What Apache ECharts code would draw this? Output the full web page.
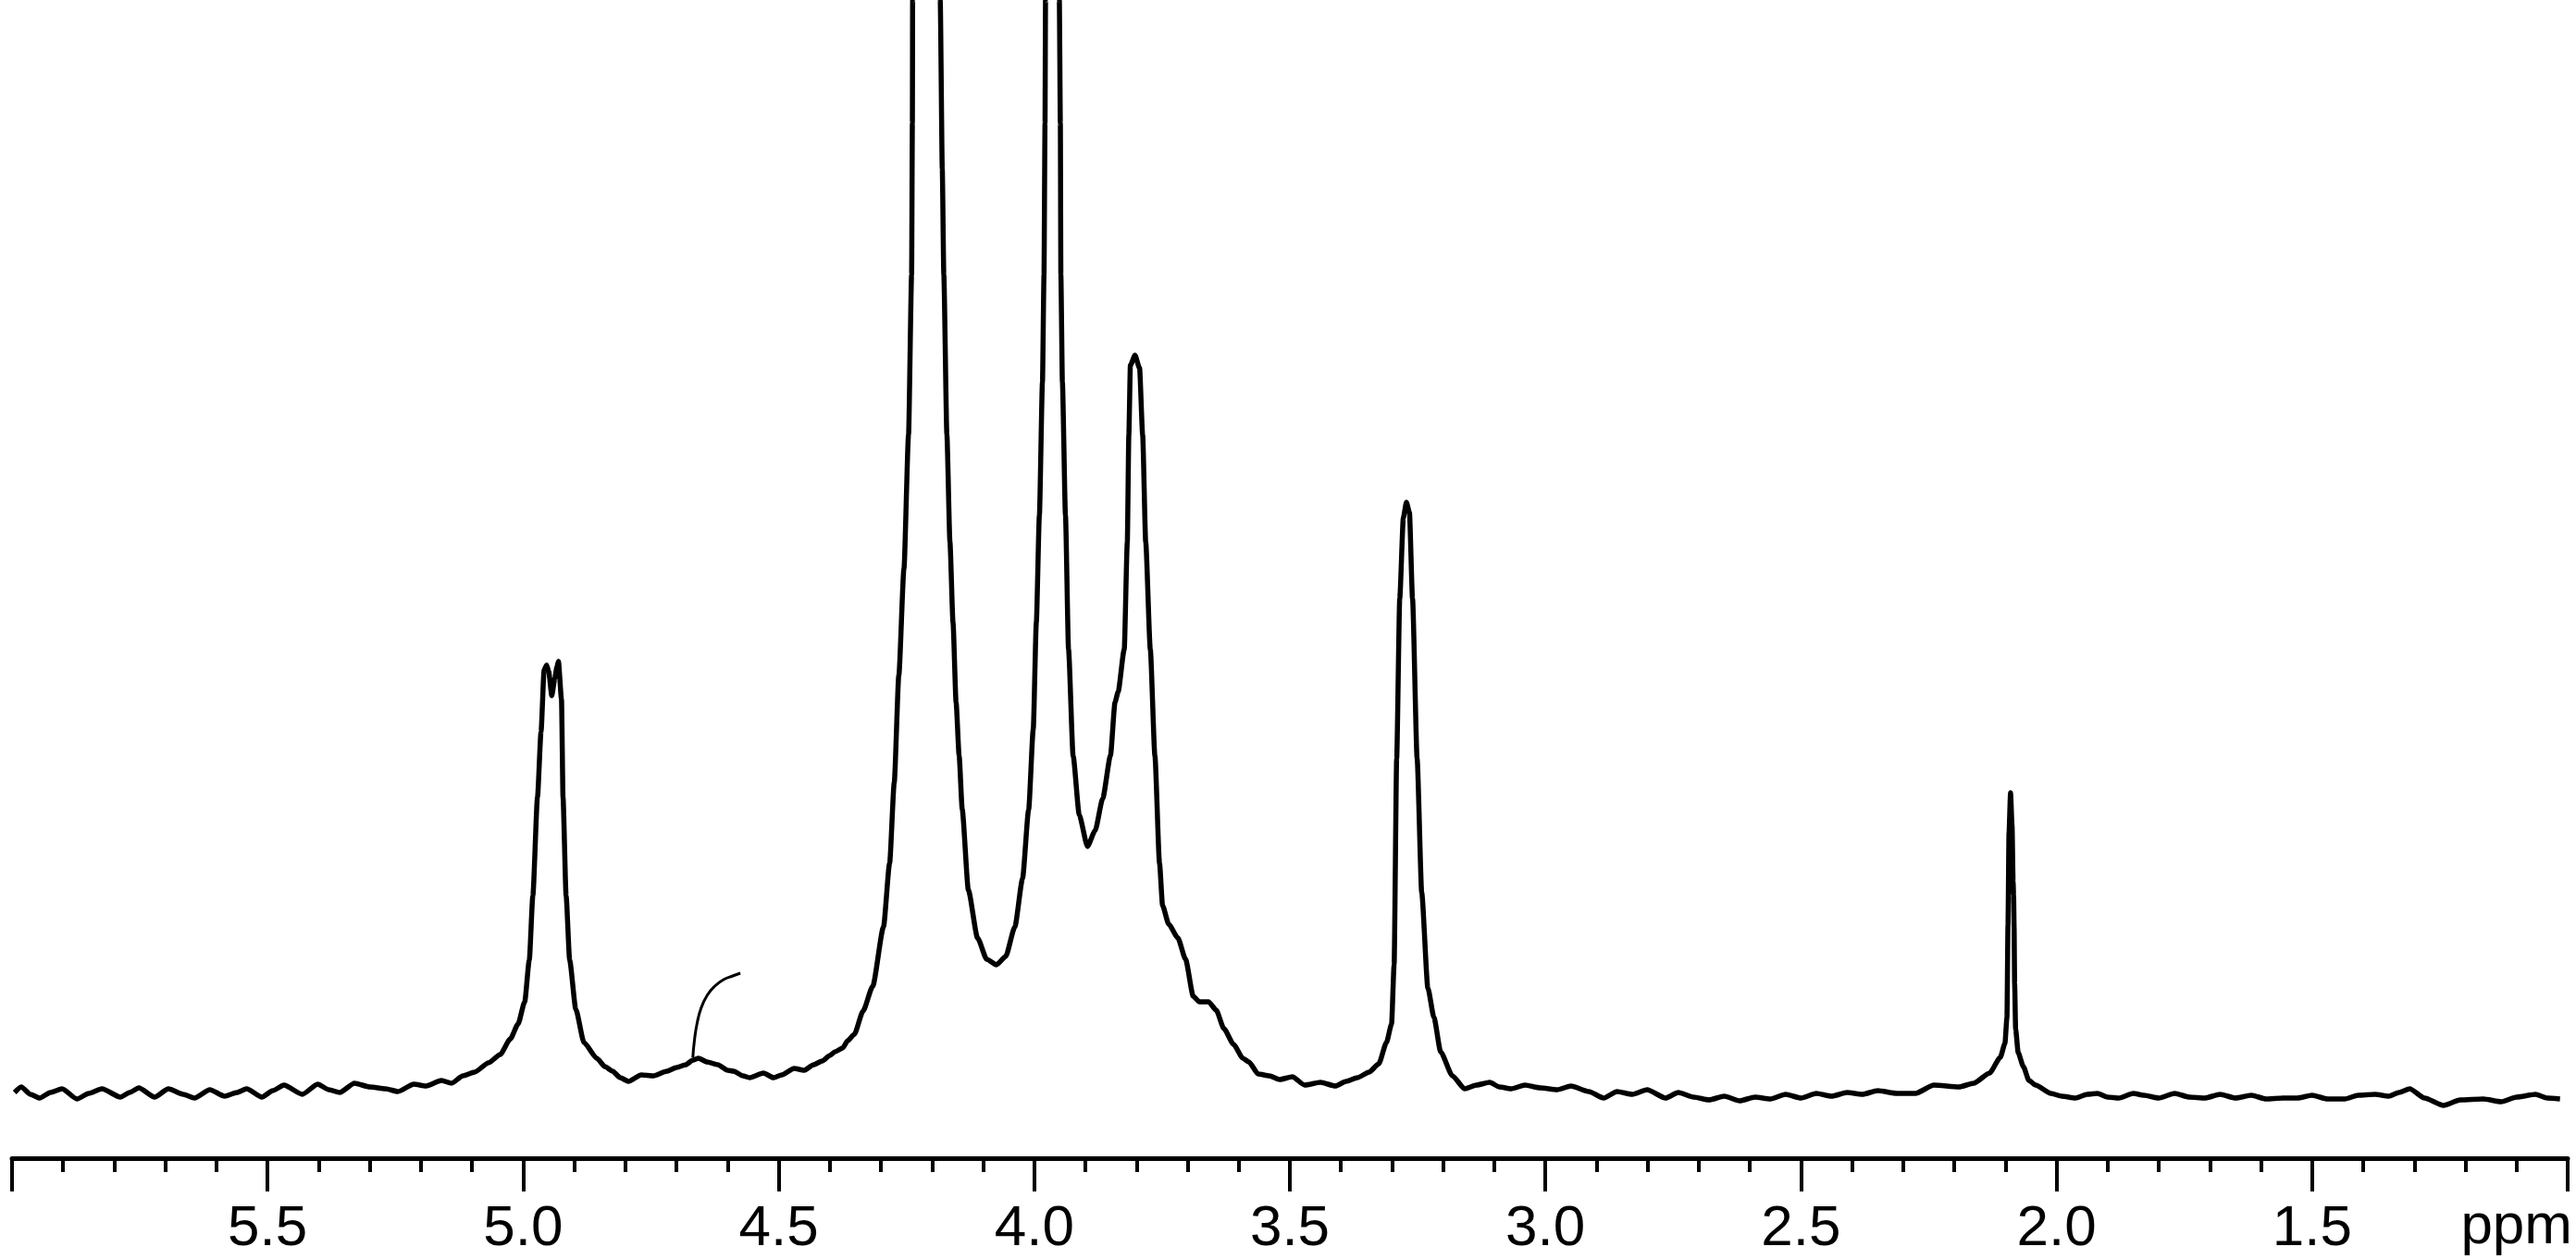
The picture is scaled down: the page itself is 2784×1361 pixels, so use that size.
<!DOCTYPE html>
<html>
<head>
<meta charset="utf-8">
<script src="https://cdn.jsdelivr.net/npm/echarts@6/dist/echarts.min.js"></script>
<style>
  html, body { margin: 0; padding: 0; background: #fff; }
  #spectrum { width: 2784px; height: 1361px; }
</style>
</head>
<body>
<div id="spectrum"></div>
<script>
// chemical shift (ppm) and signal height, left to right
const shift = [
  5.995, 5.982, 5.964, 5.946, 5.925, 5.902, 5.873, 5.850, 5.824, 5.788,
  5.770, 5.752, 5.721, 5.694, 5.665, 5.643, 5.613, 5.584, 5.560, 5.541,
  5.511, 5.490, 5.468, 5.432, 5.402, 5.380, 5.359, 5.330, 5.300, 5.269,
  5.245, 5.214, 5.190, 5.160, 5.140, 5.118, 5.095, 5.068, 5.045, 5.025,
  5.010, 4.997, 4.988, 4.981, 4.972, 4.965, 4.959, 4.954, 4.950, 4.944,
  4.938, 4.934, 4.931, 4.925, 4.922, 4.916, 4.909, 4.897, 4.881, 4.856,
  4.840, 4.825, 4.810, 4.794, 4.769, 4.745, 4.719, 4.700, 4.682, 4.668,
  4.657, 4.640, 4.619, 4.600, 4.588, 4.570, 4.557, 4.530, 4.510, 4.494,
  4.470, 4.450, 4.432, 4.415, 4.400, 4.390, 4.375, 4.365, 4.352, 4.335,
  4.316, 4.295, 4.283, 4.274, 4.265, 4.255, 4.246, 4.240, 4.2385, 4.238,
  4.230, 4.213, 4.195, 4.184, 4.180, 4.177, 4.171, 4.165, 4.159, 4.153,
  4.147, 4.141, 4.129, 4.111, 4.093, 4.074, 4.056, 4.038, 4.023, 4.011,
  4.002, 3.996, 3.990, 3.984, 3.981, 3.979, 3.978, 3.972, 3.965, 3.957,
  3.951, 3.949, 3.948, 3.945, 3.939, 3.933, 3.924, 3.912, 3.896, 3.881,
  3.866, 3.851, 3.842, 3.836, 3.824, 3.818, 3.815, 3.812, 3.803, 3.794,
  3.788, 3.782, 3.773, 3.764, 3.755, 3.749, 3.737, 3.719, 3.704, 3.689,
  3.677, 3.659, 3.644, 3.629, 3.610, 3.592, 3.580, 3.562, 3.540, 3.520,
  3.495, 3.471, 3.440, 3.411, 3.390, 3.368, 3.345, 3.326, 3.311, 3.301,
  3.296, 3.291, 3.285, 3.278, 3.272, 3.266, 3.260, 3.251, 3.242, 3.230,
  3.218, 3.205, 3.182, 3.158, 3.135, 3.109, 3.090, 3.067, 3.040, 3.010,
  2.977, 2.950, 2.915, 2.886, 2.860, 2.830, 2.801, 2.765, 2.740, 2.710,
  2.680, 2.650, 2.620, 2.590, 2.560, 2.530, 2.500, 2.470, 2.440, 2.410,
  2.380, 2.350, 2.312, 2.276, 2.240, 2.191, 2.162, 2.131, 2.110, 2.101,
  2.097, 2.095, 2.093, 2.090, 2.087, 2.085, 2.084, 2.083, 2.082, 2.080,
  2.075, 2.065, 2.054, 2.041, 2.011, 1.990, 1.963, 1.940, 1.920, 1.900,
  1.878, 1.850, 1.829, 1.800, 1.769, 1.740, 1.710, 1.680, 1.650, 1.619,
  1.590, 1.557, 1.529, 1.500, 1.470, 1.436, 1.410, 1.377, 1.350, 1.330,
  1.309, 1.280, 1.243, 1.210, 1.165, 1.130, 1.100, 1.063, 1.040, 1.015
];
const intensity = [
  0.2, 0.8, 0.0, -0.4, 0.2, 0.6, -0.5, 0.1, 0.6, -0.3,
  0.2, 0.7, -0.3, 0.6, 0.0, -0.4, 0.5, -0.2, 0.2, 0.6,
  -0.3, 0.4, 1.0, 0.0, 1.1, 0.5, 0.2, 1.2, 0.8, 0.6,
  0.3, 1.1, 0.9, 1.5, 1.2, 2.0, 2.4, 3.4, 4.3, 6.0,
  7.6, 10.0, 14.5, 21.5, 32.1, 39.2, 45.9, 46.4, 45.7, 43.1,
  45.0, 46.2, 46.8, 42.7, 32.1, 21.5, 14.5, 9.2, 5.6, 3.9,
  3.0, 2.5, 1.8, 1.4, 2.1, 2.0, 2.5, 2.9, 3.2, 3.7,
  3.9, 3.5, 3.2, 2.6, 2.5, 2.0, 1.8, 2.3, 1.8, 2.1,
  2.8, 2.6, 3.2, 3.6, 4.2, 4.6, 5.0, 5.8, 6.5, 9.0,
  11.7, 18.1, 25.0, 33.7, 45.3, 56.8, 71.3, 88.6, 105, 118.3,
  200, 270, 200, 118.3, 100, 88.6, 71.3, 59.7, 51.0, 42.4,
  36.6, 30.8, 22.1, 16.9, 14.6, 14.0, 14.9, 18.1, 23.3, 30.8,
  39.5, 51.0, 62.6, 77.0, 88.6, 105, 118.3, 200, 240, 200,
  118.3, 105, 88.6, 77.0, 62.6, 48.1, 36.6, 30.2, 26.8, 28.5,
  32.0, 36.6, 42.4, 43.5, 48.1, 59.7, 71.3, 78.8, 79.9, 78.5,
  71.3, 59.7, 48.1, 36.6, 25.0, 20.4, 18.4, 16.9, 14.6, 10.6,
  10.0, 10.0, 9.1, 7.1, 5.4, 3.9, 3.5, 2.2, 2.0, 1.6,
  1.9, 1.0, 1.3, 0.9, 1.4, 1.8, 2.4, 3.3, 5.6, 7.6,
  14.0, 36.3, 53.6, 62.3, 64.0, 62.9, 53.6, 36.3, 21.8, 11.5,
  8.3, 4.6, 2.0, 0.6, 1.0, 1.3, 0.8, 0.6, 1.0, 0.7,
  0.5, 0.9, 0.3, -0.4, 0.3, 0.0, 0.5, -0.4, 0.2, -0.3,
  -0.6, -0.2, -0.7, -0.3, -0.5, 0.0, -0.4, 0.1, -0.2, 0.2,
  0.0, 0.4, 0.1, 0.1, 1.0, 0.8, 1.2, 2.3, 4.0, 5.5,
  8.3, 18.3, 28.3, 32.6, 29.0, 23.0, 21.5, 18.0, 12.0, 7.0,
  4.5, 3.0, 1.5, 1.0, 0.1, -0.2, -0.4, 0.0, 0.1, -0.3,
  -0.4, 0.1, -0.1, -0.4, 0.1, -0.3, -0.4, 0.0, -0.4, -0.1,
  -0.5, -0.4, -0.4, -0.1, -0.5, -0.5, -0.1, 0.0, -0.2, 0.2,
  0.6, -0.4, -1.2, -0.6, -0.5, -0.8, -0.3, 0.0, -0.4, -0.5
];
// integral trace drawn over the small 4.67 ppm signal
const integralShift = [4.668, 4.665, 4.660, 4.652, 4.640, 4.625, 4.608, 4.590, 4.575];
const integralHeight = [4.0, 5.8, 7.6, 9.3, 10.7, 11.7, 12.4, 12.8, 13.1];

const axisMin = 1.0;
const axisMax = 6.0;
const axisStep = 0.5;

const spectrumData = shift.map((s, i) => [s, intensity[i]]);
const integralData = integralShift.map((s, i) => [s, integralHeight[i]]);

const chart = echarts.init(document.getElementById('spectrum'));
chart.setOption({
  animation: false,
  backgroundColor: '#ffffff',
  grid: { left: 13, right: 9, top: 0, bottom: 109 },
  xAxis: {
    type: 'value',
    min: axisMin,
    max: axisMax,
    interval: axisStep,
    inverse: true,
    splitLine: { show: false },
    axisLine: { show: true, onZero: false, lineStyle: { color: '#000', width: 5 } },
    axisTick: { show: true, length: 36, lineStyle: { color: '#000', width: 4 } },
    minorTick: { show: true, splitNumber: 5, length: 15, lineStyle: { color: '#000', width: 4 } },
    axisLabel: {
      color: '#000',
      fontSize: 62,
      fontFamily: 'Liberation Sans',
      margin: 46,
      formatter: (v) => (v === axisMin || v === axisMax) ? '' : v.toFixed(1)
    }
  },
  yAxis: { type: 'value', min: -6.9, max: 118.3, show: false },
  graphic: [{
    type: 'text',
    right: 4,
    top: 1296,
    style: { text: 'ppm', fill: '#000', font: '62px "Liberation Sans"' }
  }],
  series: [
    {
      type: 'line',
      data: spectrumData,
      showSymbol: false,
      clip: true,
      smooth: 0.2,
      smoothMonotone: 'x',
      lineStyle: { color: '#000', width: 5.5, join: 'round' }
    },
    {
      type: 'line',
      data: integralData,
      showSymbol: false,
      smooth: true,
      lineStyle: { color: '#000', width: 3 }
    }
  ]
});
</script>
</body>
</html>
